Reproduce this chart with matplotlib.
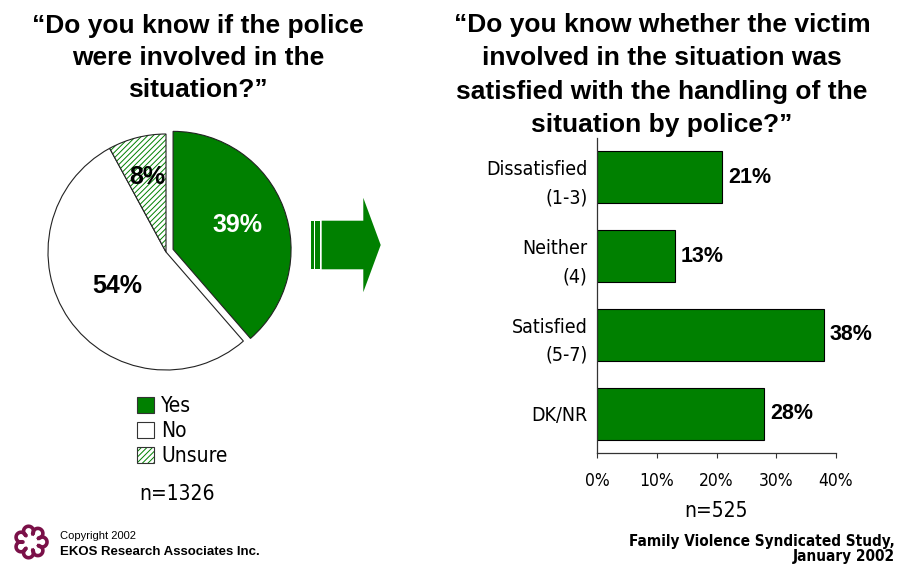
import numpy as np
import matplotlib
matplotlib.use('Agg')
import matplotlib.pyplot as plt
from matplotlib import font_manager
from matplotlib.font_manager import FontProperties
from matplotlib.patches import Patch, Rectangle, FancyArrow, Arc
from matplotlib.colors import to_rgba

# left chart: were police involved
pie_labels = ['Yes', 'No', 'Unsure']
pie_values = [39, 54, 8]
pie_n = 'n=1326'
pie_title = '\u201cDo you know if the police\nwere involved in the\nsituation?\u201d'

# right chart: victim satisfaction
bar_labels = ['Dissatisfied\n(1-3)', 'Neither\n(4)', 'Satisfied\n(5-7)', 'DK/NR']
bar_values = [21, 13, 38, 28]
bar_ticks = [0, 10, 20, 30, 40]
bar_n = 'n=525'
bar_title = ('\u201cDo you know whether the victim\ninvolved in the situation was\n'
             'satisfied with the handling of the\nsituation by police?\u201d')

GREEN = '#008000'
PURPLE = '#7a1048'
W, H = 899, 567

ARIAL = ['Liberation Sans', 'DejaVu Sans']


def narrow_font(bold=False):
    # look for an installed condensed / narrow sans, else plain Liberation Sans
    prefs = ['liberation', 'arial', 'noto sans', 'dejavu', 'roboto', 'open sans', '']
    found = []
    for f in font_manager.fontManager.ttflist:
        tag = (f.name + ' ' + str(f.stretch) + ' ' + f.fname).lower()
        if 'mono' in tag or 'serif' in tag.replace('sans-serif', '') or f.style != 'normal':
            continue
        if not ('narrow' in tag or 'condensed' in tag):
            continue
        if 'semi' in tag or 'extra' in tag or 'ultra' in tag:
            continue
        w = f.weight if isinstance(f.weight, int) else (700 if 'bold' in str(f.weight) else 400)
        if (w >= 600) != bold or w in (100, 200, 300, 500):
            continue
        rank = next(i for i, p in enumerate(prefs) if p in f.name.lower())
        found.append((rank, f.fname))
    if found:
        return FontProperties(fname=sorted(found)[0][1])
    return FontProperties(family='Liberation Sans', weight='bold' if bold else 'normal')


def sized(fp, size):
    fp = fp.copy()
    fp.set_size(size)
    return fp


NARROW = narrow_font()
NARROW_B = narrow_font(bold=True)

plt.rcParams['hatch.linewidth'] = 0.7

fig = plt.figure(figsize=(W / 100, H / 100), dpi=100)


def frac(x0, y0, x1, y1):
    # pixel box (origin top left) -> figure fraction rect
    return [x0 / W, 1 - y1 / H, (x1 - x0) / W, (y1 - y0) / H]


# overlay in pixel coords for titles, arrow, logo, footers
ov = fig.add_axes([0, 0, 1, 1], zorder=0)
ov.set_xlim(0, W)
ov.set_ylim(H, 0)
ov.axis('off')

ov.text(198, 14, pie_title, ha='center', va='top', fontsize=19,
        fontweight='bold', family=ARIAL, linespacing=1.42)
ov.text(662, 13, bar_title, ha='center', va='top', fontsize=19,
        fontweight='bold', family=ARIAL, linespacing=1.49)

# ---- pie ----
cx, cy, r = 166, 252, 118
half = 1.1 * r
ax_pie = fig.add_axes(frac(cx - half, cy - half, cx + half, cy + half), zorder=1)
wedges, _ = ax_pie.pie(pie_values, colors=[GREEN, 'white', 'white'],
                       startangle=90, counterclock=False,
                       explode=[0.064, 0, 0],
                       wedgeprops=dict(edgecolor='#222222', linewidth=0.8))
wedges[2].set_hatch('//////')
wedges[2]._hatch_color = to_rgba(GREEN)
ax_pie.set_xlim(-1.1, 1.1)
ax_pie.set_ylim(-1.1, 1.1)
ax_pie.set_aspect('equal')

label_r = [0.58, 0.5, 0.66]
label_col = ['white', 'black', 'black']
for w, v, rr, col in zip(wedges, pie_values, label_r, label_col):
    ang = np.deg2rad((w.theta1 + w.theta2) / 2)
    wx, wy = w.center
    ax_pie.text(wx + rr * np.cos(ang), wy + rr * np.sin(ang), f'{v}%',
                ha='center', va='center', color=col, fontsize=18,
                fontweight='bold', family=ARIAL)

handles = [Patch(facecolor=GREEN, edgecolor='#333333', linewidth=0.8),
           Patch(facecolor='white', edgecolor='#333333', linewidth=0.8),
           Patch(facecolor='white', edgecolor='#333333', linewidth=0.8, hatch='//////')]
handles[2]._hatch_color = to_rgba(GREEN)
leg = fig.legend(handles, pie_labels, loc='upper left',
                 bbox_to_anchor=(137 / W, 1 - 396 / H), frameon=False,
                 borderpad=0, borderaxespad=0, handlelength=0.82,
                 handleheight=0.82, handletextpad=0.35, labelspacing=0.25,
                 prop=sized(NARROW, 15))
for lh in leg.legend_handles:
    if lh.get_hatch():
        lh._hatch_color = to_rgba(GREEN)

ov.text(177, 494, pie_n, ha='center', va='center', fontproperties=sized(NARROW, 15))

# ---- arrow between the charts ----
ov.add_patch(FancyArrow(321.7, 245, 59, 0, width=48.6, head_width=94.4,
                        head_length=17.4, length_includes_head=True,
                        color=GREEN, lw=0))
ov.add_patch(Rectangle((310.7, 220.7), 3.3, 48.6, color=GREEN, lw=0))
ov.add_patch(Rectangle((315.3, 220.7), 4.7, 48.6, color=GREEN, lw=0))

# ---- bars ----
ax_bar = fig.add_axes(frac(597, 138, 836, 453), zorder=1)
bars = ax_bar.barh(range(len(bar_values)), bar_values, height=0.66,
                   color=GREEN, edgecolor='black', linewidth=0.8)
ax_bar.set_xlim(0, 40)
ax_bar.set_ylim(len(bar_values) - 0.5, -0.5)
ax_bar.set_yticks(range(len(bar_labels)), bar_labels, fontproperties=sized(NARROW, 14))
for lbl in ax_bar.get_yticklabels():
    lbl.set_linespacing(1.6)
ax_bar.set_xticks(bar_ticks, [f'{t}%' for t in bar_ticks], fontproperties=sized(NARROW, 12.5))
ax_bar.tick_params(axis='y', length=0, pad=7)
ax_bar.tick_params(axis='x', direction='out', length=3.6, width=0.8,
                   color='#333333', pad=10)
for s in ['top', 'right']:
    ax_bar.spines[s].set_visible(False)
for s in ['left', 'bottom']:
    ax_bar.spines[s].set_color('#333333')
    ax_bar.spines[s].set_linewidth(0.9)
ax_bar.bar_label(bars, fmt='%d%%', padding=4, fontsize=15.5, fontweight='bold',
                 family=ARIAL)
ax_bar.set_xlabel(bar_n, fontproperties=sized(NARROW, 15), labelpad=8)

# ---- footers ----
ov.text(895, 534, 'Family Violence Syndicated Study,\nJanuary 2002', ha='right',
        va='top', multialignment='right', fontproperties=sized(NARROW_B, 11),
        linespacing=1.0)
ov.text(60, 536, 'Copyright 2002', va='center', fontsize=8, family=ARIAL)
ov.text(60, 552, 'EKOS Research Associates Inc.', va='center', fontsize=9.5,
        fontweight='bold', family=ARIAL)

# logo: ring of hooks
lx, ly = 31, 542
for k in range(7):
    a = 2 * np.pi * k / 7
    px, py = lx + 11 * np.cos(a), ly + 11 * np.sin(a)
    deg = np.rad2deg(a)
    ov.add_patch(Arc((px, py), 10, 10, angle=deg, theta1=-150, theta2=150,
                     color=PURPLE, lw=2.6))

fig.savefig('out.png', dpi=100)
